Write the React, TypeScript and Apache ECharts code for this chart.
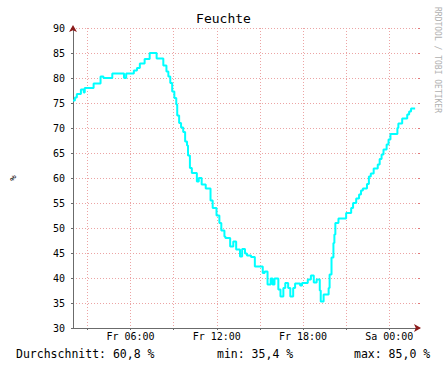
import React, { useEffect, useRef } from 'react';
import * as echarts from 'echarts';

const MONO = '"DejaVu Sans Mono", monospace';

const chartTitle = 'Feuchte';
const unitLabel = '%';
const watermark = 'RRDTOOL / TOBI OETIKER';

// Step breakpoints: time of day (Fr 02:00 .. Sa 02:00) and humidity value holding from then on
const times = [
  '02:00', '02:08', '02:16', '02:33', '02:45', '02:49', '03:26', '03:55', '04:07', '04:44',
  '05:33', '05:42', '06:14', '06:27', '06:39', '06:59', '07:20', '07:49', '08:17', '08:30',
  '08:38', '08:46', '08:54', '09:03', '09:11', '09:15', '09:23', '09:31', '09:40', '09:48',
  '09:56', '10:00', '10:08', '10:16', '10:37', '10:45', '10:57', '11:14', '11:34', '11:43',
  '11:59', '12:11', '12:19', '12:32', '12:36', '12:56', '13:09', '13:21', '13:37', '13:46',
  '13:58', '14:06', '14:23', '14:39', '15:12', '15:20', '15:32', '15:45', '15:53', '16:01',
  '16:17', '16:26', '16:38', '16:46', '16:58', '17:07', '17:19', '17:27', '17:48', '17:56',
  '18:20', '18:33', '18:45', '18:57', '19:10', '19:14', '19:26', '19:47', '19:51', '19:59',
  '20:07', '20:11', '20:15', '20:28', '21:00', '21:21', '21:29', '21:42', '21:54', '22:02',
  '22:10', '22:27', '22:35', '22:43', '22:55', '23:12', '23:20', '23:28', '23:36', '23:49',
  '23:57', '00:05', '00:34', '00:38', '00:54', '01:15', '01:23', '01:31', '01:48',
];
const values = [
  75.5, 76.1, 76.8, 77.7, 77.1, 78.0, 78.9, 80.3, 80.0, 80.9,
  80.0, 80.9, 81.5, 82.0, 82.9, 83.8, 85.0, 83.9, 82.5, 81.3,
  80.3, 79.0, 77.3, 76.0, 74.7, 72.5, 71.0, 70.1, 69.2, 67.3,
  66.5, 64.5, 62.0, 61.0, 59.3, 60.0, 58.7, 57.9, 55.5, 54.0,
  52.5, 51.0, 49.5, 48.3, 48.0, 46.3, 47.3, 45.7, 44.3, 45.8,
  44.9, 44.5, 44.2, 42.3, 41.0, 41.3, 38.7, 39.9, 38.7, 39.9,
  37.7, 36.3, 38.0, 39.0, 38.0, 36.3, 38.0, 38.9, 38.5, 39.0,
  39.7, 40.5, 39.1, 39.7, 37.5, 35.3, 36.7, 38.0, 40.7, 44.1,
  47.0, 48.7, 51.0, 51.9, 53.0, 54.0, 55.0, 55.9, 56.7, 57.5,
  57.9, 58.8, 60.3, 60.9, 61.9, 62.7, 63.8, 64.7, 65.7, 66.7,
  67.7, 68.8, 70.0, 70.9, 71.9, 72.7, 73.3, 73.9, 73.9,
];

const xStartHour = 2;
const xEndHour = 26;
const xTickHours = [3, 6, 9, 12, 15, 18, 21, 24];
const xLabelHours = [6, 12, 18, 24];
const yMin = 30;
const yMax = 90;
const yStep = 5;

const avgText = '60,8';
const minText = '35,4';
const maxText = '85,0';

function toHours(t: string): number {
  const [h, m] = t.split(':').map(Number);
  let v = h + m / 60;
  if (v < xStartHour) v += 24;
  return v;
}

function pad(n: number) {
  return n < 10 ? '0' + n : String(n);
}

export default function App() {
  const ref = useRef<HTMLDivElement>(null);

  useEffect(() => {
    if (!ref.current) return;
    const chart = echarts.init(ref.current, undefined, { renderer: 'svg' });
    const data = times.map((t, i) => [toHours(t), values[i]]);

    const gridColor = '#eca4a4';
    const axisColor = '#6b6b6b';
    const arrowColor = '#8b1a1a';

    chart.setOption({
      animation: false,
      backgroundColor: '#ffffff',
      title: {
        text: chartTitle,
        left: 'center',
        top: 12,
        padding: 0,
        textStyle: { fontFamily: MONO, fontSize: 13, fontWeight: 'normal', color: '#000' },
      },
      grid: { left: 67, right: 29, top: 28, bottom: 40, containLabel: false },
      xAxis: [
        {
          type: 'value',
          min: xStartHour,
          max: xEndHour,
          position: 'bottom',
          axisLine: { show: true, onZero: false, lineStyle: { color: axisColor, width: 1 } },
          axisTick: { show: true, customValues: xTickHours, length: 2, lineStyle: { color: axisColor } },
          axisLabel: {
            show: true,
            customValues: xLabelHours,
            fontFamily: MONO,
            fontSize: 10,
            color: '#000',
            margin: 3,
            formatter: (v: number) => (v < 24 ? 'Fr ' : 'Sa ') + pad(v % 24) + ':00',
          },
          splitLine: { show: true, lineStyle: { color: gridColor, type: [1, 2], width: 1 } },
        },
        {
          type: 'value',
          min: xStartHour,
          max: xEndHour,
          position: 'bottom',
          axisLine: {
            show: true,
            onZero: false,
            symbol: ['none', 'arrow'],
            symbolSize: [6, 7],
            symbolOffset: [0, 3],
            lineStyle: { color: arrowColor, width: 0 },
          },
          axisTick: { show: false },
          axisLabel: { show: false },
          splitLine: { show: false },
        },
      ],
      yAxis: [
        {
          type: 'value',
          min: yMin,
          max: yMax,
          interval: yStep,
          position: 'left',
          name: unitLabel,
          nameLocation: 'middle',
          nameRotate: 90,
          nameGap: 56,
          nameTextStyle: { fontFamily: MONO, fontSize: 9, color: '#000' },
          axisLine: { show: true, onZero: false, lineStyle: { color: axisColor, width: 1 } },
          axisTick: { show: true, length: 2, lineStyle: { color: axisColor } },
          axisLabel: { fontFamily: MONO, fontSize: 10, color: '#000', margin: 8 },
          splitLine: { show: true, lineStyle: { color: gridColor, type: [1, 2], width: 1 } },
        },
        {
          type: 'value',
          min: yMin,
          max: yMax,
          interval: yStep,
          position: 'left',
          axisLine: {
            show: true,
            onZero: false,
            symbol: ['none', 'arrow'],
            symbolSize: [6, 7],
            symbolOffset: [0, 3],
            lineStyle: { color: arrowColor, width: 0 },
          },
          axisTick: { show: false },
          axisLabel: { show: false },
          splitLine: { show: false },
        },
        {
          type: 'value',
          min: yMin,
          max: yMax,
          interval: yStep,
          position: 'right',
          axisLine: { show: false },
          axisTick: { show: true, length: 2, lineStyle: { color: '#e07a7a' } },
          axisLabel: { show: false },
          splitLine: { show: false },
        },
      ],
      series: [
        {
          type: 'line',
          xAxisIndex: 0,
          yAxisIndex: 0,
          step: 'end',
          showSymbol: false,
          symbol: 'none',
          data,
          lineStyle: { color: '#00ffff', width: 2 },
          z: 5,
        },
      ],
      graphic: [
        {
          type: 'text',
          x: 437,
          y: 60,
          rotation: -Math.PI / 2,
          style: {
            text: watermark,
            fontFamily: MONO,
            fontSize: 8,
            fill: '#b0b0b0',
            align: 'center',
            verticalAlign: 'middle',
          },
        },
        {
          type: 'text',
          x: 16,
          y: 354,
          style: { text: 'Durchschnitt: ' + avgText + ' %', fontFamily: MONO, fontSize: 11.5, fill: '#000', verticalAlign: 'middle' },
        },
        {
          type: 'text',
          x: 217,
          y: 354,
          style: { text: 'min: ' + minText + ' %', fontFamily: MONO, fontSize: 11.5, fill: '#000', verticalAlign: 'middle' },
        },
        {
          type: 'text',
          x: 354,
          y: 354,
          style: { text: 'max: ' + maxText + ' %', fontFamily: MONO, fontSize: 11.5, fill: '#000', verticalAlign: 'middle' },
        },
      ],
    });

    return () => chart.dispose();
  }, []);

  return <div ref={ref} style={{ position: 'fixed', left: 0, top: 0, width: 447, height: 368 }} />;
}
